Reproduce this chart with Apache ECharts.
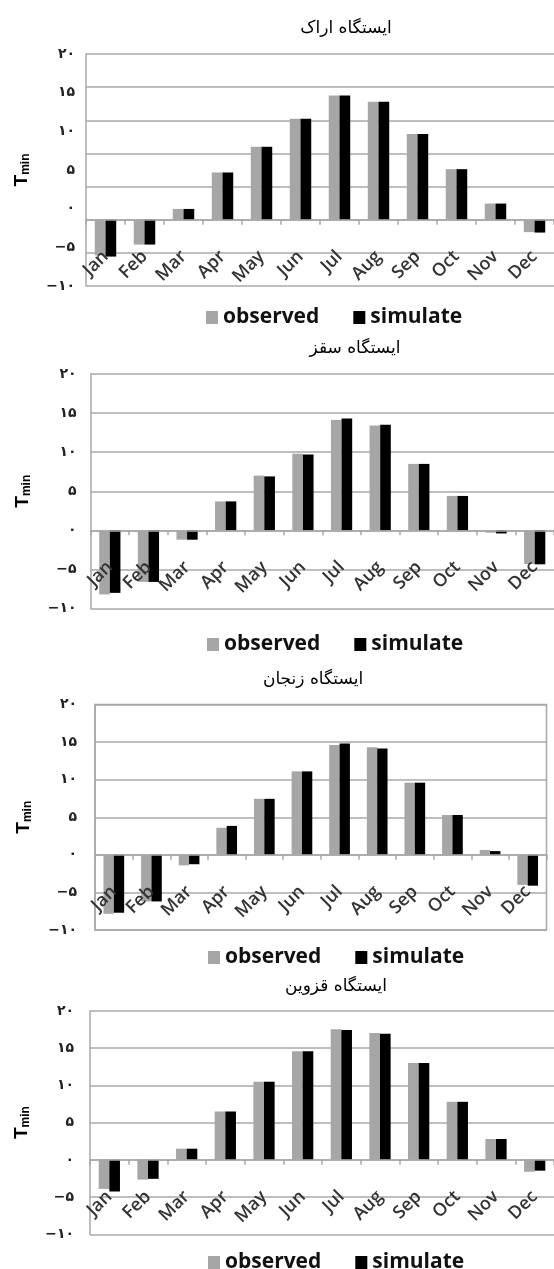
<!DOCTYPE html>
<html><head><meta charset="utf-8">
<script src="https://cdn.jsdelivr.net/npm/echarts@6/dist/echarts.min.js"></script>
<style>html,body{margin:0;padding:0;background:#fff}#c{width:554px;height:1269px}</style>
</head><body><div id="c"></div>
<script>
// ---- data ----
const months = ['Jan','Feb','Mar','Apr','May','Jun','Jul','Aug','Sep','Oct','Nov','Dec'];
const stationTitles = ['ایستگاه اراک','ایستگاه سقز','ایستگاه زنجان','ایستگاه قزوین'];
const seriesNames = ['observed','simulate'];
const arakObserved   = [-4.3, -3.0, 1.3, 5.7, 8.8, 12.2, 15.0, 14.25, 10.35, 6.1, 1.95, -1.5];
const arakSimulate   = [-4.45, -3.0, 1.3, 5.7, 8.8, 12.2, 15.0, 14.25, 10.35, 6.1, 1.95, -1.55];
const saqqezObserved = [-8.2, -6.6, -1.2, 3.7, 7.0, 9.8, 14.1, 13.4, 8.5, 4.4, -0.3, -4.3];
const saqqezSimulate = [-8.0, -6.6, -1.2, 3.7, 6.9, 9.7, 14.3, 13.5, 8.5, 4.4, -0.4, -4.35];
const zanjanObserved = [-7.85, -6.2, -1.4, 3.6, 7.45, 11.1, 14.6, 14.3, 9.6, 5.3, 0.65, -4.0];
const zanjanSimulate = [-7.7, -6.2, -1.25, 3.85, 7.45, 11.1, 14.8, 14.15, 9.6, 5.3, 0.5, -4.1];
const qazvinObserved = [-3.9, -2.65, 1.5, 6.5, 10.5, 14.6, 17.55, 17.05, 13.0, 7.8, 2.8, -1.6];
const qazvinSimulate = [-4.25, -2.55, 1.5, 6.5, 10.5, 14.6, 17.45, 16.95, 13.0, 7.8, 2.8, -1.45];
const observedSets = [arakObserved, saqqezObserved, zanjanObserved, qazvinObserved];
const simulateSets = [arakSimulate, saqqezSimulate, zanjanSimulate, qazvinSimulate];
// value-axis ranges: bar/gridline scale and printed tick-label scale
const barScales   = [[-8,20,4],[-10,20,5],[-10,20,5],[-10,20,5]];
const labelScale  = [-10,20,5];
// tick labels are written with Persian digits
const faDigits = ['۰','۱','۲','۳','۴','۵','۶','۷','۸','۹'];
// ---- layout ----
const L = [
  {left:86,  top:54,   width:469, height:232,   tx:341, ty:15,  lx:201, lg:302,  gap:54, lm:11},
  {left:90.5,top:374,  width:467, height:234.5, tx:350, ty:335, lx:202, lg:629,  gap:58, lm:14, },
  {left:95,  top:704.5,width:451.5,height:225.5,tx:308, ty:666, lx:203, lg:942,  gap:61, lm:18, border:true},
  {left:90,  top:1011, width:464.4,height:223.3,tx:331, ty:973, lx:203, lg:1247, gap:58, lm:16}
];
function fa(v){ return String(v).replace(/\d/g, d => faDigits[+d]).replace('-', '\u2212'); }
const GRID = '#a8a8a8';
const grids=[], xAxes=[], yAxes=[], series=[], titles=[], legends=[];
const yLabelStyle = (m) => ({show:true, margin:m, fontFamily:'DejaVu Sans', fontWeight:'bold', fontSize:14, color:'#222', formatter:fa});
const nameStyle = {rich:{t:{fontFamily:'Liberation Sans', fontWeight:'bold', fontSize:19, color:'#000', lineHeight:20},
                         s:{fontFamily:'Liberation Sans', fontWeight:'bold', fontSize:12, color:'#000', lineHeight:14, verticalAlign:'bottom'}}};
L.forEach((g,i)=>{
  const sc = barScales[i];
  grids.push({left:g.left, top:g.top, width:g.width, height:g.height, show:!!g.border, borderColor:GRID, borderWidth:1.5, backgroundColor:'transparent'});
  xAxes.push({type:'category', gridIndex:i, data:months, z:10, position:'bottom',
    offset: -g.height * (0 - sc[0]) / (sc[1] - sc[0]),
    axisLine:{onZero:false, lineStyle:{color:GRID, width:1.5}},
    axisTick:{show:true, length:5, lineStyle:{color:GRID, width:1.5}},
    axisLabel:{interval:0, rotate:45, margin:34, padding:[22,0,0,0],
      fontFamily:'Open Sans', fontWeight:600, fontSize:18, color:'#333'},
    splitLine:{show:false}});
  titles.push({text:stationTitles[i], left:g.tx, top:g.ty, textAlign:'center',
    textStyle:{fontFamily:'DejaVu Sans', fontWeight:'normal', fontSize:17, color:'#000'}});
  legends.push({data:seriesNames, left:g.lx, top:g.lg, icon:'rect', itemWidth:12, itemHeight:13, itemGap:34, selectedMode:false,
    textStyle:{fontFamily:'Open Sans', fontWeight:'bold', fontSize:21, color:'#111'}});
});
// chart 1: bars & gridlines on -8..20 by 4, printed labels on -10..20 by 5
yAxes.push({type:'value', gridIndex:0, min:barScales[0][0], max:barScales[0][1], interval:barScales[0][2], position:'left',
  axisLine:{show:true, lineStyle:{color:GRID, width:1.5}}, axisTick:{show:false}, axisLabel:{show:false},
  splitLine:{show:true, lineStyle:{color:GRID, width:1.5}},
  name:'{t|T}{s|min}', nameLocation:'middle', nameRotate:90, nameGap:L[0].gap, nameTextStyle:nameStyle});
yAxes.push({type:'value', gridIndex:0, min:labelScale[0], max:labelScale[1], interval:labelScale[2], position:'left',
  axisLine:{show:false}, axisTick:{show:false}, axisLabel:yLabelStyle(L[0].lm), splitLine:{show:false}});
for(let i=1;i<4;i++){
  yAxes.push({type:'value', gridIndex:i, min:barScales[i][0], max:barScales[i][1], interval:barScales[i][2], position:'left',
    axisLine:{show:true, lineStyle:{color:GRID, width:1.5}}, axisTick:{show:false}, axisLabel:yLabelStyle(L[i].lm),
    splitLine:{show:true, lineStyle:{color:GRID, width:1.5}},
    name:'{t|T}{s|min}', nameLocation:'middle', nameRotate:90, nameGap:L[i].gap, nameTextStyle:nameStyle});
}
const yIdx = [0,2,3,4];
for(let i=0;i<4;i++){
  series.push({type:'bar', name:seriesNames[0], xAxisIndex:i, yAxisIndex:yIdx[i], data:observedSets[i], barWidth:'27.5%', barGap:'0%', itemStyle:{color:'#a6a6a6'}});
  series.push({type:'bar', name:seriesNames[1], xAxisIndex:i, yAxisIndex:yIdx[i], data:simulateSets[i], barWidth:'27.5%', barGap:'0%', itemStyle:{color:'#000'}});
}
const chart = echarts.init(document.getElementById('c'), null, {renderer:'canvas'});
chart.setOption({animation:false, backgroundColor:'#fff', title:titles, legend:legends, grid:grids, xAxis:xAxes, yAxis:yAxes, series:series});
</script></body></html>
